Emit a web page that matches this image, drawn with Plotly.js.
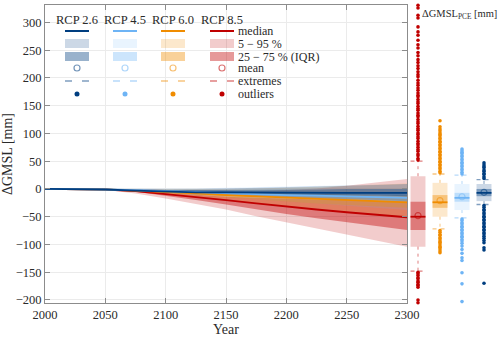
<!DOCTYPE html>
<html>
<head>
<meta charset="utf-8">
<script src="https://cdn.plot.ly/plotly-3.0.1.min.js"></script>
<style>
  html,body{margin:0;padding:0;background:#fff;}
  #chart{width:500px;height:337px;}
</style>
</head>
<body>
<div id="chart"></div>
<script>
// ---- time series (mm), every 25 years ----
const years=[2000,2025,2050,2075,2100,2125,2150,2175,2200,2225,2250,2275,2300];

const r26Med=[0,0,-1,-3,-5,-6,-6,-6.5,-7,-7,-7,-7,-7];
const r26P5 =[0,0,-1,-3,-7,-10,-12,-13,-15,-17,-18,-20,-22];
const r26P95=[0,0,0,0,-1,0,1,2,3,4,6,7,9];
const r26Q1 =[0,0,-1,-4,-7,-8,-9,-10,-11,-11,-12,-12,-13];
const r26Q3 =[0,0,0,-1,-2,-2,-2,-2,-1,-1,0,0,0];

const r45Med=[0,0,-1,-2,-4,-6,-8,-9,-11,-12,-13,-15,-16];
const r45P5 =[0,0,-1,-3,-7,-11,-15,-19,-23,-27,-31,-35,-38];
const r45P95=[0,0,0,0,0,1,2,3,4,5,6,8,9];
const r45Q1 =[0,0,-1,-3,-6,-9,-11,-13,-15,-17,-19,-21,-23];
const r45Q3 =[0,0,0,-1,-2,-3,-4,-4,-5,-5,-6,-6,-7];

const r60Med=[0,0,-1,-3,-5,-8,-11,-13,-16,-18,-20,-22,-24];
const r60P5 =[0,0,-2,-5,-10,-15,-20,-25,-30,-35,-40,-45,-50];
const r60P95=[0,0,0,0,-1,-1,0,1,2,4,6,8,10];
const r60Q1 =[0,0,-1,-4,-7,-11,-15,-19,-23,-26,-29,-32,-34];
const r60Q3 =[0,0,-1,-2,-4,-5,-6,-7,-8,-9,-10,-11,-11];

const r85Med=[0,0,-1,-4,-9,-14,-20,-26,-32,-37,-42,-47,-51];
const r85P5 =[0,0,-2,-8,-17,-27,-37,-49,-60,-71,-82,-93,-104];
const r85P95=[0,0,0,0,-2,-3,-4,-4,-2,1,6,12,18];
const r85Q1 =[0,0,-1,-5,-12,-20,-28,-37,-45,-53,-60,-67,-74];
const r85Q3 =[0,0,-1,-3,-7,-11,-14,-16,-18,-19,-20,-21,-22];

// ---- PCE distribution at 2300, order: RCP 8.5, 6.0, 4.5, 2.6 ----
const boxP5  =[-104,-50,-38,-22];
const boxP95 =[23,11,9,9];
const boxQ1  =[-74,-34,-23,-13];
const boxQ3  =[-23,-11,-7,0];
const boxMed =[-50,-24,-16,-7];
const boxMean=[-48,-21,-14,-6];
const extHi  =[50,27,25,17];
const extLo  =[-148,-72,-52,-28];

const out85=[52,55,60,63,68,71,75,79,82,86,91,94,98,101,106,109,113,118,121,125,130,133,137,142,145,149,154,157,161,166,169,173,178,182,187,191,196,202,206,211,217,222,228,233,240,246,254,260,268,277,283,292,308,313,326,331,
             -150,-153,-156,-160,-162,-166,-168,-172,-174,-177,-200,-205];
const out60=[29,32,36,38,42,44,48,50,54,56,60,62,66,68,72,74,78,80,84,86,90,92,96,98,101,105,108,112,123,
             -75,-78,-82,-84,-88,-90,-94,-96,-99,-103,-105,-108,-112,-115];
const out45=[27,30,34,36,40,42,46,48,52,54,58,60,64,66,69,72,
             -54,-57,-61,-63,-67,-69,-73,-75,-79,-81,-85,-87,-91,-94,-98,-103,-109,-116,-124,-129,-151,-171,-203];
const out26=[19,22,26,28,32,34,38,40,43,47,
             -30,-33,-37,-39,-43,-45,-49,-51,-55,-57,-61,-63,-67,-69,-73,-75,-79,-81,-85,-89,-93,-97,-106,-110,-170];

const labels=['RCP 2.6','RCP 4.5','RCP 6.0','RCP 8.5'];
const rgb={r26:[0,62,128],r45:[110,180,245],r60:[240,140,0],r85:[192,0,0]};
const a=(c,al)=>`rgba(${c[0]},${c[1]},${c[2]},${al})`;
const FONT='Liberation Serif';
const F=(size)=>({family:FONT,size:size,color:'#2a2a2a'});

const series=[
  {c:rgb.r85,med:r85Med,p5:r85P5,p95:r85P95,q1:r85Q1,q3:r85Q3,l1:.2,l2:.4},
  {c:rgb.r60,med:r60Med,p5:r60P5,p95:r60P95,q1:r60Q1,q3:r60Q3,l1:.2,l2:.4},
  {c:rgb.r45,med:r45Med,p5:r45P5,p95:r45P95,q1:r45Q1,q3:r45Q3,l1:.15,l2:.35},
  {c:rgb.r26,med:r26Med,p5:r26P5,p95:r26P95,q1:r26Q1,q3:r26Q3,l1:.2,l2:.4},
];
const outs=[out85,out60,out45,out26];

const traces=[];
// bands
series.forEach(s=>{
  traces.push({x:years,y:s.p95,mode:'lines',line:{width:0},hoverinfo:'skip'});
  traces.push({x:years,y:s.p5,mode:'lines',line:{width:0},fill:'tonexty',fillcolor:a(s.c,s.l1),hoverinfo:'skip'});
  traces.push({x:years,y:s.q3,mode:'lines',line:{width:0},hoverinfo:'skip'});
  traces.push({x:years,y:s.q1,mode:'lines',line:{width:0},fill:'tonexty',fillcolor:a(s.c,s.l2),hoverinfo:'skip'});
});
// medians
series.forEach(s=>{
  traces.push({x:years,y:s.med,mode:'lines',line:{color:a(s.c,1),width:1.8}});
});

// box panel
const pos=[1,2,3,4];
const hw=0.34;
traces.push({type:'bar',xaxis:'x2',yaxis:'y2',x:pos,base:boxP5,y:boxP95.map((v,i)=>v-boxP5[i]),width:hw*2,
  marker:{color:series.map(s=>a(s.c,s.l1)),line:{width:0}}});
traces.push({type:'bar',xaxis:'x2',yaxis:'y2',x:pos,base:boxQ1,y:boxQ3.map((v,i)=>v-boxQ1[i]),width:hw*2,
  marker:{color:series.map(s=>a(s.c,s.l2)),line:{width:0}}});
series.forEach((s,i)=>{
  const p=pos[i];
  // whiskers
  traces.push({xaxis:'x2',yaxis:'y2',mode:'lines',x:[p,p,null,p,p],y:[boxP95[i],extHi[i],null,boxP5[i],extLo[i]],
    line:{color:a(s.c,.5),width:1,dash:'3px,4px'}});
  // extremes
  traces.push({xaxis:'x2',yaxis:'y2',mode:'lines',x:[p-hw,p+hw,null,p-hw,p+hw],y:[extHi[i],extHi[i],null,extLo[i],extLo[i]],
    line:{color:a(s.c,.5),width:1.3,dash:'4px,4px'}});
  // outliers
  traces.push({xaxis:'x2',yaxis:'y2',mode:'markers',x:outs[i].map(()=>p),y:outs[i],cliponaxis:false,
    marker:{color:a(s.c,1),size:3.6}});
  // median
  traces.push({xaxis:'x2',yaxis:'y2',mode:'lines',x:[p-hw,p+hw],y:[boxMed[i],boxMed[i]],line:{color:a(s.c,1),width:1.8}});
  // mean
  traces.push({xaxis:'x2',yaxis:'y2',mode:'markers',x:[p],y:[boxMean[i]],
    marker:{symbol:'circle-open',color:a(s.c,.55),size:6,line:{width:1.2}}});
});
traces.forEach(t=>t.showlegend=false);

// ---- legend drawn in pixel terms inside the plot area ----
const L=45,T=5,W=450,H=298;
const px=x=>(x-L)/W, py=y=>(T+H-y)/H;
const shapes=[],ann=[];
const legOrder=[series[3],series[2],series[1],series[0]];
const colX=[77,125,173,222];
legOrder.forEach((s,k)=>{
  const cx=colX[k];
  shapes.push({type:'line',xref:'paper',yref:'paper',x0:px(cx-12),x1:px(cx+12),y0:py(31),y1:py(31),line:{color:a(s.c,1),width:2}});
  shapes.push({type:'rect',xref:'paper',yref:'paper',x0:px(cx-12),x1:px(cx+12),y0:py(39),y1:py(48),fillcolor:a(s.c,s.l1),line:{width:0}});
  shapes.push({type:'rect',xref:'paper',yref:'paper',x0:px(cx-12),x1:px(cx+12),y0:py(52),y1:py(61),fillcolor:a(s.c,s.l2),line:{width:0}});
  shapes.push({type:'circle',xref:'paper',yref:'paper',x0:px(cx-3),x1:px(cx+3),y0:py(65),y1:py(71),line:{color:a(s.c,.55),width:1.2}});
  shapes.push({type:'line',xref:'paper',yref:'paper',x0:px(cx-12),x1:px(cx-5),y0:py(81),y1:py(81),line:{color:a(s.c,.5),width:1.5}});
  shapes.push({type:'line',xref:'paper',yref:'paper',x0:px(cx+5),x1:px(cx+12),y0:py(81),y1:py(81),line:{color:a(s.c,.5),width:1.5}});
  shapes.push({type:'circle',xref:'paper',yref:'paper',x0:px(cx-2.5),x1:px(cx+2.5),y0:py(91.5),y1:py(96.5),fillcolor:a(s.c,1),line:{width:0}});
  ann.push({xref:'paper',yref:'paper',x:px(cx),y:py(20),text:labels[k],showarrow:false,xanchor:'center',yanchor:'middle',font:F(12.5)});
});
const rowText=[['median',31],['5 − 95 %',44],['25 − 75 % (IQR)',57],['mean',68],['extremes',81],['outliers',94]];
rowText.forEach(([t,y])=>ann.push({xref:'paper',yref:'paper',x:px(236),y:py(y),text:t,showarrow:false,xanchor:'left',yanchor:'middle',font:F(12)}));
ann.push({xref:'paper',yref:'paper',x:px(420),y:py(15),text:'ΔGMSL<sub>PCE</sub> [mm]',showarrow:false,xanchor:'left',yanchor:'middle',font:F(10.5)});

const axStyle={showgrid:true,gridcolor:'#ebebeb',gridwidth:1,showline:true,linecolor:'#8c8c8c',linewidth:1,
  mirror:'ticks',ticks:'inside',ticklen:5,tickcolor:'#8c8c8c',zeroline:false,tickfont:F(12.5)};

Plotly.newPlot('chart',traces,{
  width:500,height:337,
  margin:{l:L,r:5,t:T,b:34},
  paper_bgcolor:'#fff',plot_bgcolor:'rgba(0,0,0,0)',
  font:F(12),
  barmode:'overlay',
  xaxis:{...axStyle,domain:[0,362/W],range:[2000,2300],tick0:2000,dtick:50,
    title:{text:'Year',standoff:5,font:F(14)}},
  yaxis:{...axStyle,range:[-205.5,331.5],tick0:0,dtick:50,
    title:{text:'ΔGMSL [mm]',standoff:6,font:F(14)}},
  xaxis2:{domain:[362/W,1],range:[0.5,4.5],visible:false,anchor:'y2'},
  yaxis2:{anchor:'x2',range:[-205.5,331.5],visible:false},
  shapes:shapes,annotations:ann,
},{staticPlot:true,displayModeBar:false});
</script>
</body>
</html>
